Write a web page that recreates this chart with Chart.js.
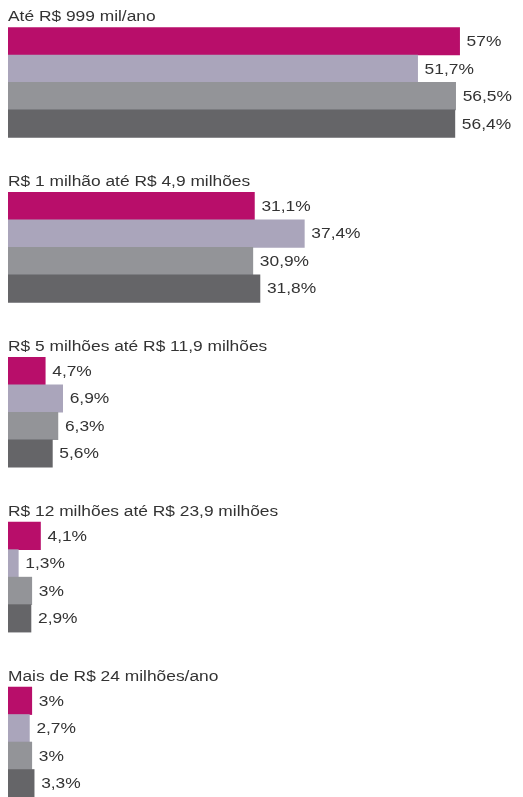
<!DOCTYPE html>
<html>
<head>
<meta charset="utf-8">
<script src="https://cdn.jsdelivr.net/npm/chart.js@4"></script>
<style>
  body { margin: 0; background: #fff; }
  #wrap { width: 523px; height: 797px; position: relative; }
</style>
</head>
<body>
<div id="wrap"><canvas id="myChart"></canvas></div>
<script>
// faixas de faturamento
const faixas = [
  "Até R$ 999 mil/ano",
  "R$ 1 milhão até R$ 4,9 milhões",
  "R$ 5 milhões até R$ 11,9 milhões",
  "R$ 12 milhões até R$ 23,9 milhões",
  "Mais de R$ 24 milhões/ano"
];

// quatro series (uma barra de cada cor por faixa)
const serie1 = [57, 31.1, 4.7, 4.1, 3];
const serie2 = [51.7, 37.4, 6.9, 1.3, 2.7];
const serie3 = [56.5, 30.9, 6.3, 3, 3];
const serie4 = [56.4, 31.8, 5.6, 2.9, 3.3];

const cores = ["#b80e6a", "#aaa5bb", "#939498", "#656568"];
const STRETCH = 1.24;

// build rows: title slot, 4 bars, gap slot (no gap after last group)
let labels = [];
let values = [];
let colors = [];
let titleRows = [];
faixas.forEach((f, g) => {
  titleRows.push({ idx: labels.length, text: f });
  labels.push("t" + g);
  values.push(null);
  colors.push("transparent");
  [serie1, serie2, serie3, serie4].forEach((s, i) => {
    labels.push(f + " " + i);
    values.push(s[g]);
    colors.push(cores[i]);
  });
  if (g < faixas.length - 1) {
    labels.push("gap" + g);
    values.push(null);
    colors.push("transparent");
  }
});

const fmt = v => String(v).replace(".", ",") + "%";

function stretchText(ctx, text, x, y) {
  ctx.save();
  ctx.scale(STRETCH, 1);
  ctx.fillText(text, x / STRETCH, y);
  ctx.restore();
}

const textPlugin = {
  id: "textPlugin",
  afterDatasetsDraw(chart) {
    const ctx = chart.ctx;
    const yScale = chart.scales.y;
    const slot = yScale.getPixelForValue(1) - yScale.getPixelForValue(0);
    ctx.save();
    ctx.fillStyle = "#333333";
    ctx.font = "14px 'Liberation Sans', Arial, sans-serif";

    // group titles
    ctx.textBaseline = "alphabetic";
    ctx.textAlign = "left";
    titleRows.forEach(t => {
      let y = yScale.getPixelForValue(t.idx) + slot / 2 - 6;
      stretchText(ctx, t.text, chart.chartArea.left, y);
    });

    // value labels
    ctx.textBaseline = "middle";
    chart.getDatasetMeta(0).data.forEach((bar, i) => {
      if (values[i] === null) return;
      stretchText(ctx, fmt(values[i]), bar.x + 7, bar.y + 1);
    });
    ctx.restore();
  }
};

new Chart(document.getElementById("myChart"), {
  type: "bar",
  data: {
    labels: labels,
    datasets: [{
      data: values,
      backgroundColor: colors,
      borderWidth: 0,
      barPercentage: 1,
      categoryPercentage: 1
    }]
  },
  options: {
    indexAxis: "y",
    responsive: true,
    maintainAspectRatio: false,
    animation: false,
    layout: { padding: { left: 8, right: 0, top: 0, bottom: 0 } },
    plugins: { legend: { display: false }, tooltip: { enabled: false } },
    scales: {
      x: { display: false, min: 0, max: 65 },
      y: { display: false }
    }
  },
  plugins: [textPlugin]
});
</script>
</body>
</html>
